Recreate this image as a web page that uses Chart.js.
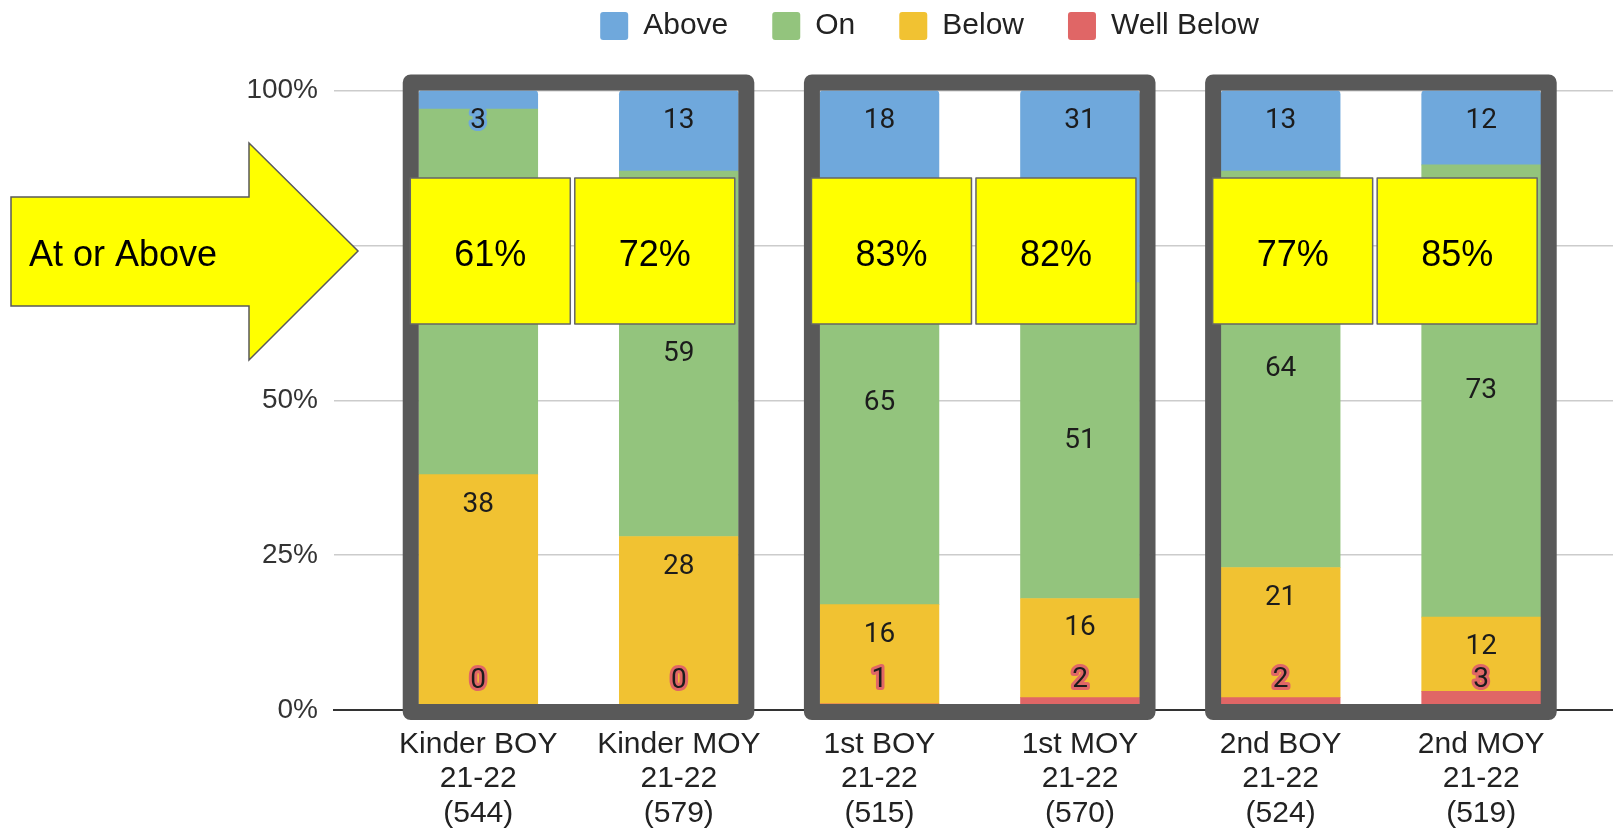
<!DOCTYPE html>
<html>
<head>
<meta charset="utf-8">
<script src="https://cdn.jsdelivr.net/npm/chart.js@4.4.1/dist/chart.umd.min.js"></script>
<style>
  html, body { margin: 0; padding: 0; background: #fff; }
  #wrap { width: 1613px; height: 828px; }
</style>
</head>
<body>
<div id="wrap"><canvas id="chart"></canvas></div>
<script>
// groups on the x axis
const categories = ["Kinder BOY", "Kinder MOY", "1st BOY", "1st MOY", "2nd BOY", "2nd MOY"];
const schoolYear = "21-22";
const studentCounts = [544, 579, 515, 570, 524, 519];

// percent of students in each band
const above = [3, 13, 18, 31, 13, 12];
const onLevel = [59, 59, 65, 51, 64, 73];
const below = [38, 28, 16, 16, 21, 12];
const wellBelow = [0, 0, 1, 2, 2, 3];

// "At or Above" callouts
const atOrAbove = [61, 72, 83, 82, 77, 85];

const FONT = "'Liberation Sans', Arial, sans-serif";

const toPoints = arr => arr.map((v, i) => ({ x: i, y: v }));

// push the plot down under the legend
const legendGap = {
    id: "legendGap",
    beforeInit(chart) {
        const fit = chart.legend.fit;
        chart.legend.fit = function () {
            fit.call(this);
            this.height = 123.5;
        };
    }
};

// numbers inside the bar segments
const segmentLabels = {
    id: "segmentLabels",
    afterDatasetsDraw(chart) {
        const ctx = chart.ctx;
        ctx.save();
        ctx.font = "28px Roboto";
        ctx.textAlign = "center";
        ctx.textBaseline = "middle";
        ctx.lineJoin = "round";
        chart.data.datasets.forEach((ds, d) => {
            chart.getDatasetMeta(d).data.forEach((bar, i) => {
                const top = Math.min(bar.y, bar.base);
                const bottom = Math.max(bar.y, bar.base);
                let y;
                if (ds.labelAt === "center") y = (top + bottom) / 2;
                else if (ds.labelAt === "base") y = bottom - 29;
                else y = top + 30;
                const txt = String(ds.data[i].y);
                if (bottom - top < 30) {
                    ctx.strokeStyle = ds.backgroundColor;
                    ctx.lineWidth = 6;
                    ctx.strokeText(txt, bar.x, y);
                }
                ctx.fillStyle = "#1c1c1c";
                ctx.fillText(txt, bar.x, y);
            });
        });
        ctx.restore();
    }
};

// frames, yellow boxes and the arrow
const callouts = {
    id: "callouts",
    afterDraw(chart) {
        const ctx = chart.ctx;
        const yScale = chart.scales.y;
        const bars = chart.getDatasetMeta(0).data;
        const top = yScale.getPixelForValue(100);
        const base = yScale.getPixelForValue(0);
        ctx.save();
        for (let p = 0; p < bars.length; p += 2) {
            const a = bars[p], b = bars[p + 1];
            const left = a.x - a.width / 2;
            const right = b.x + b.width / 2;

            ctx.strokeStyle = "#595959";
            ctx.lineWidth = 16;
            ctx.lineJoin = "round";
            ctx.strokeRect(left - 8, top - 8, right - left + 16, base + 2 - (top - 8));

            const mid = (a.x + b.x) / 2 - 6;
            const bw = 160, gap = 4.5, by = 178, bh = 146;
            [mid - gap / 2 - bw, mid + gap / 2].forEach((bx, k) => {
                ctx.fillStyle = "#ffff00";
                ctx.fillRect(bx, by, bw, bh);
                ctx.strokeStyle = "#666";
                ctx.lineWidth = 1.5;
                ctx.strokeRect(bx, by, bw, bh);
                ctx.fillStyle = "#000";
                ctx.font = "36px " + FONT;
                ctx.textAlign = "center";
                ctx.textBaseline = "alphabetic";
                ctx.fillText(atOrAbove[p + k] + "%", bx + bw / 2, 266);
            });
        }

        // arrow
        ctx.beginPath();
        ctx.moveTo(11, 197);
        ctx.lineTo(249, 197);
        ctx.lineTo(249, 143);
        ctx.lineTo(358, 251);
        ctx.lineTo(249, 360);
        ctx.lineTo(249, 306);
        ctx.lineTo(11, 306);
        ctx.closePath();
        ctx.fillStyle = "#ffff00";
        ctx.fill();
        ctx.strokeStyle = "#595959";
        ctx.lineWidth = 1.5;
        ctx.lineJoin = "miter";
        ctx.stroke();
        ctx.fillStyle = "#000";
        ctx.font = "36px " + FONT;
        ctx.textAlign = "left";
        ctx.textBaseline = "alphabetic";
        ctx.fillText("At or Above", 29, 266);
        ctx.restore();
    }
};

new Chart(document.getElementById("chart"), {
    type: "bar",
    data: {
        datasets: [
            { label: "Well Below", data: toPoints(wellBelow), backgroundColor: "#e06666", labelAt: "base" },
            { label: "Below", data: toPoints(below), backgroundColor: "#f1c232", labelAt: "end" },
            { label: "On", data: toPoints(onLevel), backgroundColor: "#93c47d", labelAt: "center" },
            { label: "Above", data: toPoints(above), backgroundColor: "#6fa8dc", labelAt: "end", borderRadius: 4 }
        ]
    },
    options: {
        responsive: true,
        maintainAspectRatio: false,
        animation: false,
        devicePixelRatio: 1,
        barThickness: 119,
        layout: { padding: { left: 246, top: -33, right: 0, bottom: 0 } },
        plugins: {
            tooltip: { enabled: false },
            legend: {
                position: "top",
                labels: {
                    sort: (a, b) => b.datasetIndex - a.datasetIndex,
                    boxWidth: 28,
                    boxHeight: 28,
                    useBorderRadius: true,
                    borderRadius: 3,
                    padding: 44,
                    color: "#222",
                    font: { family: FONT, size: 30 }
                }
            }
        },
        scales: {
            x: {
                type: "linear",
                stacked: true,
                offset: false,
                min: -0.719,
                max: 5.657,
                afterFit: scale => { scale.height = 118; },
                grid: { display: false, drawTicks: false, offset: false },
                border: { display: true, color: "#333", width: 2 },
                afterBuildTicks: scale => {
                    scale.ticks = categories.map((_, i) => ({ value: i }));
                },
                ticks: {
                    autoSkip: false,
                    maxRotation: 0,
                    minRotation: 0,
                    padding: 17,
                    color: "#222",
                    font: { family: FONT, size: 30, lineHeight: 1.15 },
                    callback: v => [categories[v], schoolYear, "(" + studentCounts[v] + ")"]
                }
            },
            y: {
                stacked: true,
                min: 0,
                max: 100,
                afterFit: scale => { scale.width = 88; },
                grid: {
                    drawTicks: false,
                    lineWidth: 1.5,
                    color: c => (c.tick && c.tick.value === 0 ? "#333" : "#cccccc")
                },
                border: { display: false },
                ticks: {
                    stepSize: 25,
                    padding: 16,
                    color: "#333",
                    font: { family: FONT, size: 28 },
                    callback: v => v + "%"
                }
            }
        }
    },
    plugins: [legendGap, segmentLabels, callouts]
});
</script>
</body>
</html>
